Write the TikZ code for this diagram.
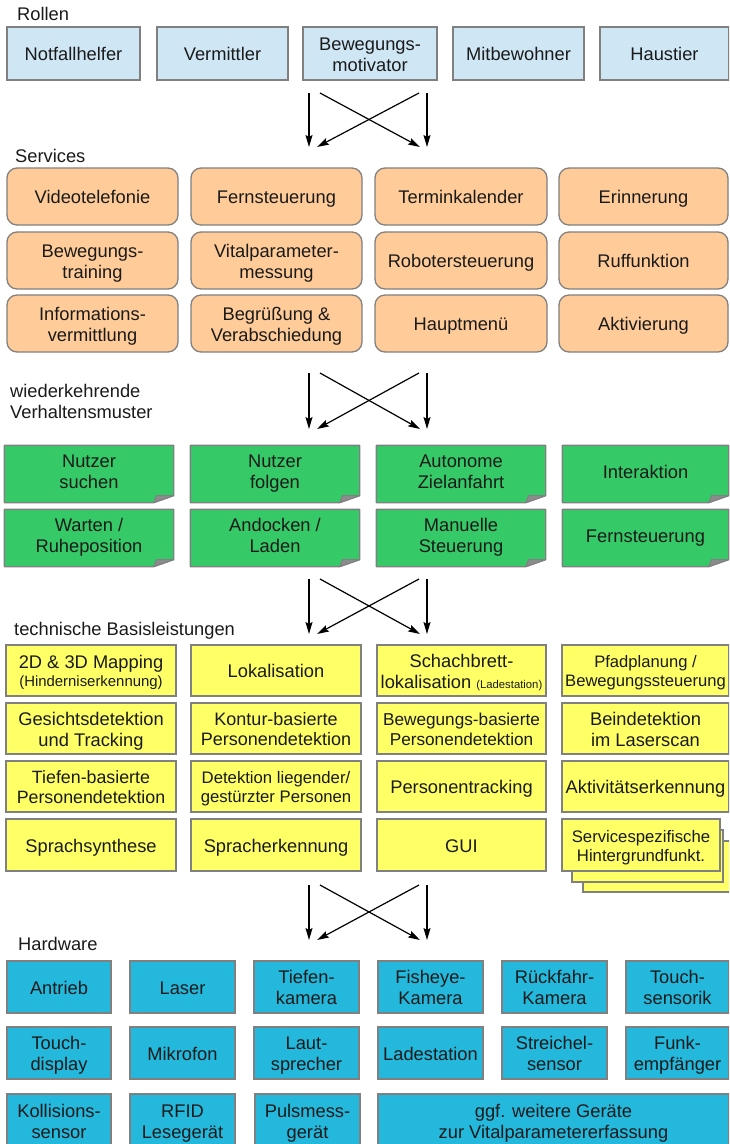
\documentclass[tikz,border=0pt]{standalone}
\usepackage{fontspec}
\setmainfont{Liberation Sans}
\usetikzlibrary{arrows.meta,backgrounds}

\definecolor{boxline}{HTML}{808080}
\definecolor{textcol}{HTML}{1A1A1A}
\definecolor{rolefill}{HTML}{CFE7F5}
\definecolor{servfill}{HTML}{FFCC99}
\definecolor{notefill}{HTML}{35C968}
\definecolor{foldfill}{HTML}{8C8C8C}
\definecolor{basefill}{HTML}{FFFF66}
\definecolor{hwfill}{HTML}{23B8DC}

\newcommand\mainsize{\fontsize{18.3}{20.7}\selectfont}
\newcommand\midsize{\fontsize{16.7}{19}\selectfont}

% box: style, name, x0, y0, x1, y1, text (uniform cap-top strut, baseline-bottom)
\newcommand\cell[7]{%
  \node[#1, minimum width={#5-#3}, minimum height={#6-#4}] (#2)
    at ({(#3+#5)/2},{(#4+#6)/2}) {\rule{0pt}{0.8em}#7};}

% sticky note outline with folded lower right corner
\newcommand\noteshape[1]{%
  \path[notebg] (#1.north west) -- (#1.north east)
    -- ([yshift=7pt]#1.south east) -- ([xshift=-20pt]#1.south east)
    -- (#1.south west) -- cycle;
  \path[foldbg] ([yshift=7pt]#1.south east)
    -- ([xshift=-17pt,yshift=7pt]#1.south east)
    -- ([xshift=-20pt]#1.south east) -- cycle;}

% two straight and two crossing arrows between layers
\newcommand\crossflow[3]{%
  \coordinate (#1tl) at (309,#2);  \coordinate (#1bl) at (309,#3);
  \coordinate (#1tr) at (427,#2);  \coordinate (#1br) at (427,#3);
  \coordinate (#1dl) at (320,#2);  \coordinate (#1dr) at (419,#2);
  \coordinate (#1el) at (317,#3);  \coordinate (#1er) at (420,#3);
  \draw[flow] (#1tl) -- (#1bl);
  \draw[flow] (#1tr) -- (#1br);
  \draw[flow] (#1dl) -- (#1er);
  \draw[flow] (#1dr) -- (#1el);}

\tikzset{
  box/.style={draw=boxline, line width=1.3pt, inner sep=1pt, align=center,
    font=\mainsize, text=textcol, text depth=0pt},
  rolebox/.style={box, fill=rolefill},
  servbox/.style={box, fill=servfill, rounded corners=10pt},
  notebox/.style={box, draw=none, text depth=6pt},
  notebg/.style={fill=notefill, draw=boxline, line width=1.3pt, line join=round},
  foldbg/.style={fill=foldfill, draw=boxline, line width=1pt, line join=round},
  basebox/.style={box, fill=basefill},
  hwbox/.style={box, fill=hwfill},
  layerlabel/.style={inner sep=0pt, font=\mainsize, text=textcol, align=left},
  flow/.style={line width=1.2pt, draw=black,
    -{Stealth[length=12pt,width=7pt,inset=2pt]}},
}

\begin{document}
\begin{tikzpicture}[x=1pt,y=-1pt]
\useasboundingbox (0,0) rectangle (729,1144);
\clip (0,0) rectangle (729,1144);

% ---------- Rollen ----------
\node[layerlabel, anchor=base west] (lrollen) at (17,20) {Rollen};
\cell{rolebox}{r1}{7}{27}{140}{80}{Notfallhelfer}
\cell{rolebox}{r2}{157}{27}{288}{80}{Vermittler}
\cell{rolebox}{r3}{303}{27}{437}{80}{Bewegungs-\\motivator}
\cell{rolebox}{r4}{453}{27}{584}{80}{Mitbewohner}
\cell{rolebox}{r5}{600}{27}{729}{80}{Haustier}

\crossflow{a}{93}{147}

% ---------- Services ----------
\node[layerlabel, anchor=base west] (lservices) at (15,162) {Services};
\cell{servbox}{s11}{7}{168}{178}{225}{Videotelefonie}
\cell{servbox}{s12}{191}{168}{362}{225}{Fernsteuerung}
\cell{servbox}{s13}{375}{168}{547}{225}{Terminkalender}
\cell{servbox}{s14}{559}{168}{728}{225}{Erinnerung}
\cell{servbox}{s21}{7}{232}{178}{289}{Bewegungs-\\training}
\cell{servbox}{s22}{191}{232}{362}{289}{Vitalparameter-\\messung}
\cell{servbox}{s23}{375}{232}{547}{289}{Robotersteuerung}
\cell{servbox}{s24}{559}{232}{728}{289}{Ruffunktion}
\cell{servbox}{s31}{7}{295}{178}{352}{Informations-\\vermittlung}
\cell{servbox}{s32}{191}{295}{362}{352}{Begrüßung \&\\Verabschiedung}
\cell{servbox}{s33}{375}{295}{547}{352}{Hauptmenü}
\cell{servbox}{s34}{559}{295}{728}{352}{Aktivierung}

\crossflow{b}{373}{429}

% ---------- wiederkehrende Verhaltensmuster ----------
\node[layerlabel, anchor=west] (lmuster) at (10,401.7)
  {wiederkehrende\\Verhaltensmuster};
\cell{notebox}{v11}{5}{446}{173}{502}{Nutzer\\suchen}
\cell{notebox}{v12}{191}{446}{359}{502}{Nutzer\\folgen}
\cell{notebox}{v13}{377}{446}{545}{502}{Autonome\\Zielanfahrt}
\cell{notebox}{v14}{563}{446}{728}{502}{Interaktion}
\cell{notebox}{v21}{5}{510}{173}{566}{Warten /\\Ruheposition}
\cell{notebox}{v22}{191}{510}{359}{566}{Andocken /\\Laden}
\cell{notebox}{v23}{377}{510}{545}{566}{Manuelle\\Steuerung}
\cell{notebox}{v24}{563}{510}{728}{566}{Fernsteuerung}
\begin{scope}[on background layer]
  \noteshape{v11}\noteshape{v12}\noteshape{v13}\noteshape{v14}
  \noteshape{v21}\noteshape{v22}\noteshape{v23}\noteshape{v24}
\end{scope}

\crossflow{c}{579}{634}

% ---------- technische Basisleistungen ----------
\node[layerlabel, anchor=base west] (lbasis) at (14,635) {technische Basisleistungen};
\cell{basebox}{t11}{6}{645}{176}{696}{2D \& 3D Mapping\\[-3pt]{\fontsize{14.9}{16}\selectfont (Hinderniserkennung)}}
\cell{basebox}{t12}{191}{645}{361}{696}{Lokalisation}
\cell{basebox}{t13}{377}{645}{546}{696}{Schachbrett-\\lokalisation {\fontsize{11.3}{12}\selectfont (Ladestation)}}
\cell{basebox, font=\fontsize{16.6}{19.5}\selectfont}{t14}{562}{645}{729}{696}{Pfadplanung /\\Bewegungssteuerung}
\cell{basebox}{t21}{6}{703}{176}{754}{Gesichtsdetektion\\und Tracking}
\cell{basebox, font=\fontsize{18}{20.5}\selectfont}{t22}{191}{703}{361}{754}{Kontur-basierte\\Personendetektion}
\cell{basebox, font=\fontsize{17.2}{19.5}\selectfont}{t23}{377}{703}{546}{754}{Bewegungs-basierte\\Personendetektion}
\cell{basebox}{t24}{562}{703}{729}{754}{Beindetektion\\im Laserscan}
\cell{basebox, font=\fontsize{17.8}{20.5}\selectfont}{t31}{6}{761}{176}{812}{Tiefen-basierte\\Personendetektion}
\cell{basebox, font=\midsize}{t32}{191}{761}{361}{812}{Detektion liegender/\\gestürzter Personen}
\cell{basebox}{t33}{377}{761}{546}{812}{Personentracking}
\cell{basebox}{t34}{562}{761}{729}{812}{Aktivitätserkennung}
\cell{basebox}{t41}{6}{819}{176}{871}{Sprachsynthese}
\cell{basebox}{t42}{191}{819}{361}{871}{Spracherkennung}
\cell{basebox}{t43}{377}{819}{546}{871}{GUI}
% stacked sheets behind the last box
\draw[fill=basefill, draw=boxline, line width=1.3pt] (583,841) rectangle (742,892);
\draw[fill=basefill, draw=boxline, line width=1.3pt] (572,830) rectangle (723,882);
\cell{basebox, font=\midsize}{t44}{562}{819}{720}{871}{Servicespezifische\\Hintergrundfunkt.}

\crossflow{d}{885}{940}

% ---------- Hardware ----------
\node[layerlabel, anchor=base west] (lhw) at (18,950) {Hardware};
\cell{hwbox}{h11}{7}{961}{111}{1013}{Antrieb}
\cell{hwbox}{h12}{130}{961}{235}{1013}{Laser}
\cell{hwbox}{h13}{254}{961}{359}{1013}{Tiefen-\\kamera}
\cell{hwbox}{h14}{378}{961}{483}{1013}{Fisheye-\\Kamera}
\cell{hwbox}{h15}{502}{961}{607}{1013}{Rückfahr-\\Kamera}
\cell{hwbox}{h16}{626}{961}{729}{1013}{Touch-\\sensorik}
\cell{hwbox}{h21}{7}{1027}{111}{1079}{Touch-\\display}
\cell{hwbox}{h22}{130}{1027}{235}{1079}{Mikrofon}
\cell{hwbox}{h23}{254}{1027}{359}{1079}{Laut-\\sprecher}
\cell{hwbox}{h24}{378}{1027}{483}{1079}{Ladestation}
\cell{hwbox}{h25}{502}{1027}{607}{1079}{Streichel-\\sensor}
\cell{hwbox}{h26}{626}{1027}{729}{1079}{Funk-\\empfänger}
\cell{hwbox}{h31}{7}{1094}{111}{1148}{Kollisions-\\sensor}
\cell{hwbox}{h32}{130}{1094}{235}{1148}{RFID\\Lesegerät}
\cell{hwbox}{h33}{255}{1094}{360}{1148}{Pulsmess-\\gerät}
\cell{hwbox}{h34}{378}{1094}{729}{1148}{ggf. weitere Geräte\\zur Vitalparametererfassung}
\end{tikzpicture}
\end{document}
